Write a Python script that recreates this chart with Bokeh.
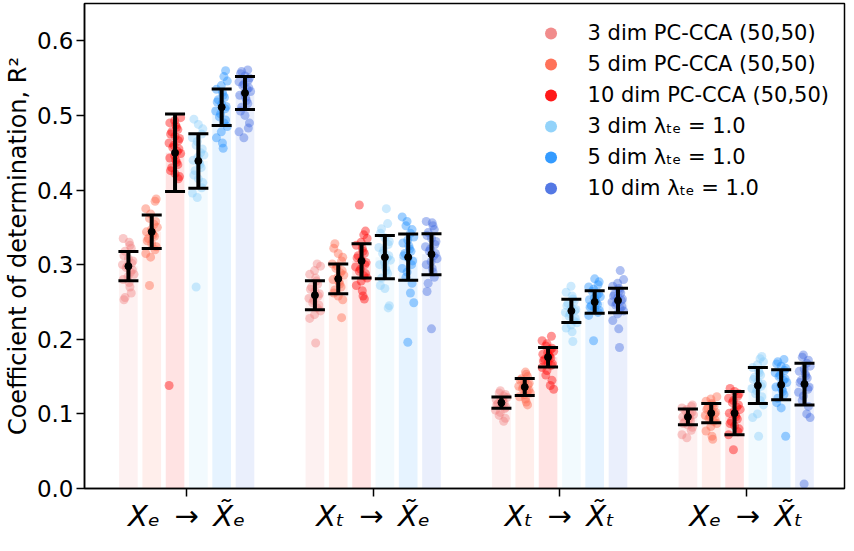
import numpy as np
from bokeh.plotting import figure
from bokeh.models import ColumnDataSource, FixedTicker, Whisker, TeeHead, Legend, LegendItem
from bokeh.embed import file_html
from bokeh.resources import INLINE

# ---------------- data ----------------
SP = "\u2002"
group_labels = ["X\u2091" + SP + "\u2192" + SP + "X\u0303\u2091",
                "X\u209c" + SP + "\u2192" + SP + "X\u0303\u2091",
                "X\u209c" + SP + "\u2192" + SP + "X\u0303\u209c",
                "X\u2091" + SP + "\u2192" + SP + "X\u0303\u209c"]
series_labels = ["3 dim PC-CCA (50,50)", "5 dim PC-CCA (50,50)", "10 dim PC-CCA (50,50)",
                 "3 dim \u03bb\u209c\u2091 = 1.0", "5 dim \u03bb\u209c\u2091 = 1.0", "10 dim \u03bb\u209c\u2091 = 1.0"]
series_colors = ["lightcoral", "tomato", "red", "lightskyblue", "dodgerblue", "royalblue"]

# means per series (one value per group)
mean_pc3 = [0.298, 0.259, 0.115, 0.096]
mean_pc5 = [0.344, 0.281, 0.136, 0.101]
mean_pc10 = [0.450, 0.305, 0.176, 0.101]
mean_lt3 = [0.439, 0.310, 0.238, 0.138]
mean_lt5 = [0.511, 0.310, 0.250, 0.139]
mean_lt10 = [0.530, 0.314, 0.252, 0.140]

# half-length of error bars (std)
err_pc3 = [0.0195, 0.0195, 0.0075, 0.0105]
err_pc5 = [0.0225, 0.0200, 0.0115, 0.0130]
err_pc10 = [0.0520, 0.0230, 0.0130, 0.0290]
err_lt3 = [0.0365, 0.0290, 0.0155, 0.0240]
err_lt5 = [0.0245, 0.0310, 0.0150, 0.0200]
err_lt10 = [0.0220, 0.0275, 0.0165, 0.0280]

# individual points, group 1 (Xe -> ~Xe), one list per series
pts_g1 = [
    [0.335, 0.330, 0.326, 0.322, 0.318, 0.312, 0.308, 0.305, 0.302, 0.300, 0.298, 0.296, 0.293, 0.290, 0.287, 0.284, 0.280, 0.276, 0.270, 0.262, 0.256, 0.253],
    [0.388, 0.385, 0.375, 0.368, 0.362, 0.358, 0.354, 0.350, 0.347, 0.344, 0.342, 0.340, 0.338, 0.335, 0.332, 0.328, 0.324, 0.320, 0.315, 0.310, 0.272],
    [0.497, 0.493, 0.490, 0.487, 0.484, 0.481, 0.478, 0.475, 0.472, 0.469, 0.466, 0.463, 0.460, 0.457, 0.455, 0.452, 0.449, 0.446, 0.443, 0.440, 0.437, 0.434, 0.430, 0.426, 0.422, 0.418, 0.415, 0.138],
    [0.495, 0.488, 0.482, 0.475, 0.470, 0.465, 0.460, 0.455, 0.450, 0.447, 0.444, 0.440, 0.437, 0.434, 0.430, 0.426, 0.420, 0.415, 0.410, 0.403, 0.396, 0.390, 0.270],
    [0.560, 0.552, 0.546, 0.540, 0.535, 0.531, 0.527, 0.524, 0.521, 0.518, 0.515, 0.512, 0.509, 0.506, 0.502, 0.498, 0.494, 0.490, 0.485, 0.478, 0.470, 0.463, 0.456],
    [0.561, 0.559, 0.556, 0.553, 0.550, 0.547, 0.545, 0.542, 0.540, 0.537, 0.535, 0.532, 0.530, 0.527, 0.524, 0.520, 0.516, 0.511, 0.506, 0.500, 0.490, 0.483, 0.478, 0.470],
]
# group 2 (Xt -> ~Xe)
pts_g2 = [
    [0.301, 0.298, 0.292, 0.287, 0.282, 0.278, 0.274, 0.270, 0.267, 0.264, 0.261, 0.258, 0.255, 0.252, 0.249, 0.246, 0.242, 0.238, 0.233, 0.228, 0.195],
    [0.328, 0.322, 0.315, 0.310, 0.305, 0.301, 0.298, 0.295, 0.292, 0.289, 0.286, 0.283, 0.280, 0.277, 0.274, 0.270, 0.266, 0.262, 0.258, 0.253, 0.229],
    [0.380, 0.345, 0.340, 0.335, 0.330, 0.326, 0.322, 0.318, 0.315, 0.312, 0.309, 0.306, 0.303, 0.300, 0.297, 0.294, 0.291, 0.288, 0.285, 0.282, 0.278, 0.272, 0.265, 0.258, 0.254],
    [0.375, 0.355, 0.348, 0.342, 0.336, 0.331, 0.327, 0.323, 0.319, 0.315, 0.312, 0.309, 0.306, 0.303, 0.300, 0.296, 0.292, 0.288, 0.282, 0.272, 0.268, 0.245, 0.242],
    [0.364, 0.358, 0.352, 0.347, 0.342, 0.337, 0.333, 0.329, 0.325, 0.321, 0.318, 0.315, 0.312, 0.309, 0.305, 0.300, 0.295, 0.290, 0.283, 0.275, 0.262, 0.249, 0.196],
    [0.358, 0.356, 0.352, 0.347, 0.343, 0.339, 0.335, 0.331, 0.327, 0.324, 0.321, 0.318, 0.315, 0.312, 0.308, 0.304, 0.300, 0.295, 0.290, 0.283, 0.275, 0.264, 0.214],
]
# group 3 (Xt -> ~Xt)
pts_g3 = [
    [0.131, 0.128, 0.126, 0.124, 0.122, 0.120, 0.119, 0.117, 0.116, 0.115, 0.114, 0.112, 0.111, 0.109, 0.107, 0.105, 0.102, 0.098, 0.094, 0.090],
    [0.156, 0.153, 0.150, 0.147, 0.145, 0.143, 0.141, 0.139, 0.137, 0.136, 0.134, 0.132, 0.130, 0.128, 0.126, 0.123, 0.120, 0.116, 0.112],
    [0.204, 0.198, 0.194, 0.191, 0.188, 0.186, 0.184, 0.182, 0.180, 0.178, 0.177, 0.175, 0.173, 0.171, 0.169, 0.167, 0.165, 0.162, 0.158, 0.152, 0.145, 0.138, 0.133],
    [0.271, 0.263, 0.258, 0.254, 0.251, 0.248, 0.245, 0.242, 0.240, 0.238, 0.236, 0.234, 0.231, 0.228, 0.225, 0.222, 0.219, 0.215, 0.210, 0.197],
    [0.281, 0.277, 0.273, 0.270, 0.267, 0.264, 0.261, 0.259, 0.257, 0.255, 0.253, 0.251, 0.249, 0.247, 0.245, 0.243, 0.241, 0.239, 0.236, 0.232, 0.198],
    [0.292, 0.280, 0.275, 0.271, 0.268, 0.265, 0.262, 0.260, 0.258, 0.256, 0.254, 0.252, 0.250, 0.248, 0.246, 0.244, 0.241, 0.238, 0.234, 0.225, 0.214, 0.189],
]
# group 4 (Xe -> ~Xt)
pts_g4 = [
    [0.112, 0.110, 0.108, 0.106, 0.104, 0.102, 0.100, 0.099, 0.097, 0.096, 0.094, 0.093, 0.091, 0.089, 0.087, 0.085, 0.082, 0.078, 0.072, 0.068],
    [0.123, 0.120, 0.117, 0.114, 0.112, 0.110, 0.108, 0.106, 0.104, 0.102, 0.100, 0.098, 0.096, 0.094, 0.092, 0.090, 0.087, 0.083, 0.077, 0.070, 0.066],
    [0.134, 0.130, 0.127, 0.124, 0.121, 0.118, 0.115, 0.112, 0.109, 0.106, 0.104, 0.101, 0.099, 0.096, 0.093, 0.090, 0.087, 0.084, 0.080, 0.076, 0.072, 0.052],
    [0.177, 0.174, 0.170, 0.166, 0.162, 0.158, 0.155, 0.152, 0.149, 0.146, 0.143, 0.140, 0.137, 0.134, 0.131, 0.127, 0.123, 0.118, 0.112, 0.100, 0.095, 0.070],
    [0.173, 0.170, 0.167, 0.164, 0.161, 0.158, 0.155, 0.152, 0.150, 0.147, 0.145, 0.142, 0.139, 0.136, 0.133, 0.130, 0.126, 0.121, 0.115, 0.108, 0.070],
    [0.179, 0.176, 0.172, 0.168, 0.164, 0.160, 0.157, 0.154, 0.151, 0.148, 0.145, 0.142, 0.139, 0.136, 0.133, 0.129, 0.124, 0.118, 0.110, 0.100, 0.095, 0.006],
]

y_ticks = [0.0, 0.1, 0.2, 0.3, 0.4, 0.5, 0.6]
y_tick_labels = ["0.0", "0.1", "0.2", "0.3", "0.4", "0.5", "0.6"]

# ---------------- layout / style ----------------
BAR_STEP = 0.125
BAR_W = 0.1
JITTER = [-0.028, 0.012, -0.006, 0.024, -0.018, 0.004, 0.030, -0.012, 0.018, -0.024, 0.008, -0.002, 0.021, -0.032, 0.0, 0.015]

means = [mean_pc3, mean_pc5, mean_pc10, mean_lt3, mean_lt5, mean_lt10]
errs = [err_pc3, err_pc5, err_pc10, err_lt3, err_lt5, err_lt10]
points = [pts_g1, pts_g2, pts_g3, pts_g4]

p = figure(width=846, height=535, output_backend="svg", toolbar_location=None,
           x_range=(-0.548, 3.527), y_range=(0.0, 0.65),
           min_border_left=83, min_border_right=2, min_border_top=3, min_border_bottom=10)
p.xgrid.visible = False
p.ygrid.visible = False
p.outline_line_color = "black"
p.outline_line_width = 1.5
p.outline_line_alpha = 1.0
p.background_fill_color = "white"

bar_x, bar_top, bar_col = [], [], []
px, py, pcol = [], [], []
wx, wlo, whi, wm = [], [], [], []
for s in range(6):
    for g in range(4):
        xc = g + (s - 2.5) * BAR_STEP
        bar_x.append(xc)
        bar_top.append(means[s][g])
        bar_col.append(series_colors[s])
        for k, v in enumerate(points[g][s]):
            px.append(xc + JITTER[(k * 5 + s * 3 + g) % len(JITTER)])
            py.append(v)
            pcol.append(series_colors[s])
        wx.append(xc)
        wm.append(means[s][g])
        wlo.append(means[s][g] - errs[s][g])
        whi.append(means[s][g] + errs[s][g])

p.vbar(x=bar_x, top=bar_top, width=BAR_W, bottom=0, fill_color=bar_col, fill_alpha=0.11, line_alpha=0)
p.scatter(x=px, y=py, size=9, fill_color=pcol, fill_alpha=0.42, line_alpha=0)

wsrc = ColumnDataSource(dict(x=wx, lower=wlo, upper=whi, m=wm))
whisk = Whisker(source=wsrc, base="x", lower="lower", upper="upper", dimension="height",
                line_color="black", line_width=4, level="overlay",
                upper_head=TeeHead(size=20, line_width=3, line_color="black"),
                lower_head=TeeHead(size=20, line_width=3, line_color="black"))
p.add_layout(whisk)
mean_r = p.scatter(x="x", y="m", source=wsrc, size=7, fill_color="black", line_color="black")
mean_r.level = "overlay"

# legend-only renderers (NaN data: nothing drawn in the plot area)
items = []
for s in range(6):
    r = p.scatter(x=np.array([np.nan]), y=np.array([np.nan]), size=12,
                  fill_color=series_colors[s], fill_alpha=0.9, line_alpha=0)
    items.append(LegendItem(label=series_labels[s], renderers=[r]))
legend = Legend(items=items, location="top_right", border_line_alpha=0,
                background_fill_alpha=0.8, label_text_font="DejaVu Sans",
                label_text_font_size="21px", label_text_color="black",
                glyph_width=30, glyph_height=30,
                label_height=30, spacing=1, label_standoff=22, padding=10, margin=5)
p.add_layout(legend)

# axes
p.yaxis.ticker = FixedTicker(ticks=y_ticks)
p.yaxis.major_label_overrides = {t: l for t, l in zip(y_ticks, y_tick_labels)}
p.xaxis.ticker = FixedTicker(ticks=[0, 1, 2, 3])
p.xaxis.major_label_overrides = {i: l for i, l in enumerate(group_labels)}
for ax in (p.xaxis[0], p.yaxis[0]):
    ax.axis_line_width = 1.5
    ax.major_tick_line_width = 1.5
    ax.major_tick_out = 8
    ax.major_tick_in = 0
    ax.minor_tick_out = 0
    ax.minor_tick_in = 0
    ax.major_label_text_font = "DejaVu Sans"
    ax.major_label_text_color = "black"
p.yaxis.major_label_text_font_size = "23px"
p.yaxis.major_label_standoff = 3
p.xaxis.major_label_text_font_size = "29px"
p.xaxis.major_label_text_font_style = "italic"
p.xaxis.major_label_standoff = 2
p.yaxis.axis_label = "Coefficient of determination, R\u00b2"
p.yaxis.axis_label_text_font = "DejaVu Sans"
p.yaxis.axis_label_text_font_size = "24px"
p.yaxis.axis_label_text_font_style = "normal"
p.yaxis.axis_label_standoff = 2
p.yaxis.axis_label_text_color = "black"

open("out.html", "w").write(file_html(p, INLINE))
